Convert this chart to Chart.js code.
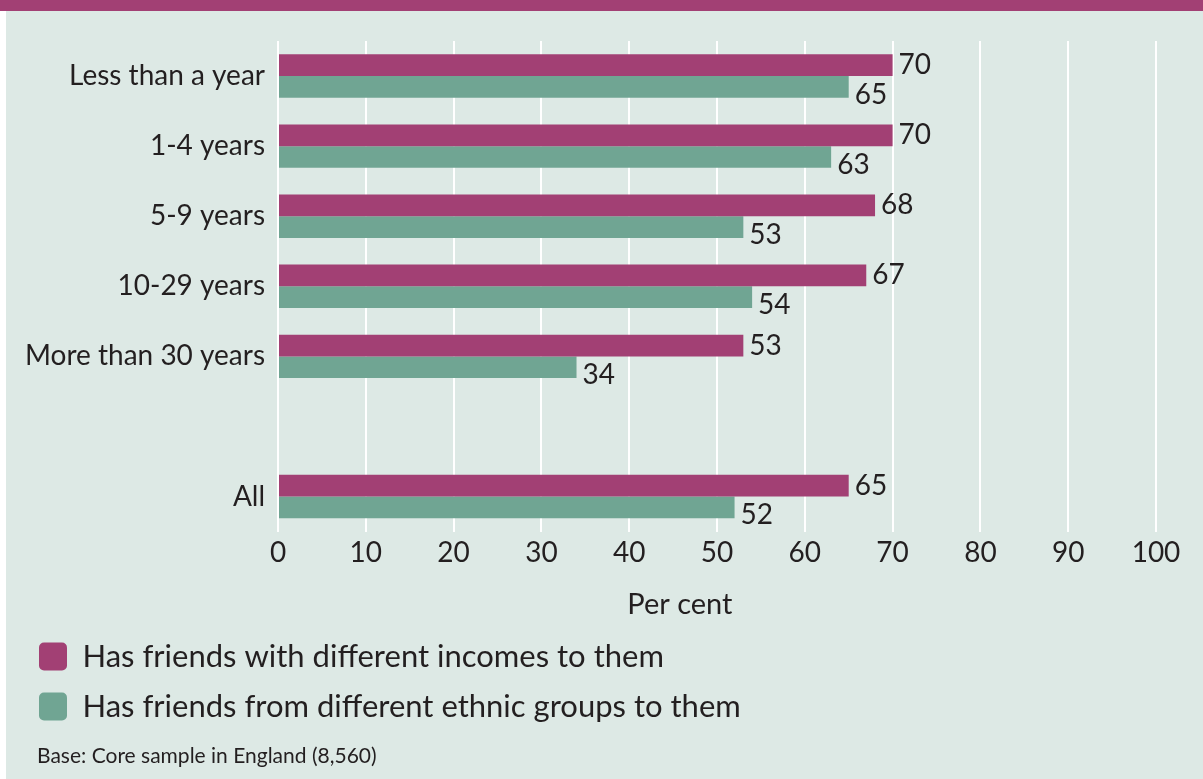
<!DOCTYPE html>
<html>
<head>
<meta charset="utf-8">
<script src="https://cdn.jsdelivr.net/npm/chart.js@4.4.1/dist/chart.umd.min.js"></script>
<style>
  html, body { margin: 0; padding: 0; background: #fff; }
  #wrap { position: relative; width: 1203px; height: 779px; overflow: hidden; font-family: Lato, sans-serif; }
  #panel { position: absolute; left: 6px; top: 0; right: 0; bottom: 0; background: #dde9e5; }
  #band { position: absolute; left: 0; top: 0; width: 1203px; height: 11px; background: #a24074; }
  #chart { position: absolute; left: 0; top: 0; }
  #note { position: absolute; left: 37px; top: 742px; font-size: 21px; line-height: 25px; color: #231f20; }
</style>
</head>
<body>
<div id="wrap">
  <div id="panel"></div>
  <div id="band"></div>
  <canvas id="chart" width="1203" height="779"></canvas>
  <div id="note">Base: Core sample in England (8,560)</div>
</div>
<script>
const categories = ['Less than a year', '1-4 years', '5-9 years', '10-29 years', 'More than 30 years', '', 'All'];
const incomes = [70, 70, 68, 67, 53, null, 65];
const ethnic = [65, 63, 53, 54, 34, null, 52];
const xTicks = [0, 10, 20, 30, 40, 50, 60, 70, 80, 90, 100];

const FONT = 'Lato, sans-serif';
const TEXT = '#231f20';

// value labels at the bar ends (green ones sit a little lower)
const valueLabels = {
  id: 'valueLabels',
  afterDatasetsDraw(chart) {
    const ctx = chart.ctx;
    ctx.save();
    ctx.font = '28px ' + FONT;
    ctx.fillStyle = TEXT;
    ctx.textAlign = 'left';
    ctx.textBaseline = 'middle';
    chart.data.datasets.forEach((ds, i) => {
      chart.getDatasetMeta(i).data.forEach((bar, j) => {
        if (ds.data[j] == null) return;
        ctx.fillText(ds.data[j], bar.x + 6, bar.y + (i === 1 ? 8 : 0));
      });
    });
    ctx.restore();
  }
};

new Chart(document.getElementById('chart'), {
  type: 'bar',
  data: {
    labels: categories,
    datasets: [
      { label: 'Has friends with different incomes to them', data: incomes, backgroundColor: '#a24074' },
      { label: 'Has friends from different ethnic groups to them', data: ethnic, backgroundColor: '#70a593' }
    ]
  },
  options: {
    indexAxis: 'y',
    responsive: false,
    animation: false,
    categoryPercentage: 0.62,
    barPercentage: 1,
    layout: { padding: { top: 41, left: 20, right: 47, bottom: 47 } },
    scales: {
      x: {
        min: 0, max: 100,
        afterBuildTicks: axis => { axis.ticks = xTicks.map(v => ({ value: v })); },
        grid: { color: '#ffffff', lineWidth: 2, drawTicks: false },
        border: { display: false },
        ticks: { color: TEXT, font: { family: FONT, size: 28 }, padding: 5 },
        title: {
          display: true,
          text: 'Per cent          ',
          color: TEXT,
          font: { family: FONT, size: 29 },
          padding: { top: 12, bottom: 0 }
        }
      },
      y: {
        afterFit: axis => { axis.width = 258; },
        grid: { display: false, drawTicks: false },
        border: { display: false },
        ticks: { color: TEXT, font: { family: FONT, size: 28 }, padding: 13 }
      }
    },
    plugins: {
      legend: {
        position: 'bottom',
        align: 'start',
        labels: {
          color: TEXT,
          font: { family: FONT, size: 31 },
          boxWidth: 28, boxHeight: 28,
          useBorderRadius: true, borderRadius: 5,
          padding: 19
        }
      },
      tooltip: { enabled: false }
    }
  },
  plugins: [valueLabels]
});
</script>
</body>
</html>
